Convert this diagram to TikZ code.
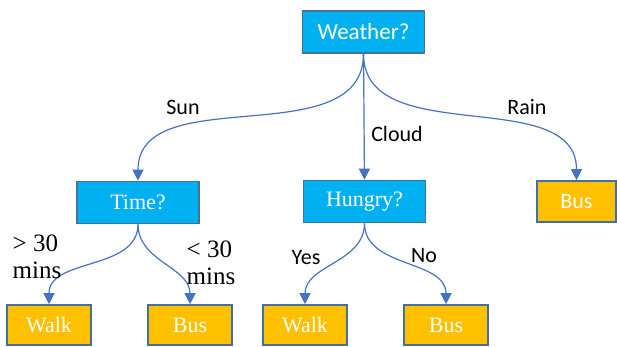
\documentclass[tikz,border=0pt]{standalone}
\usepackage{fontspec}
\setmainfont{Liberation Serif}
\newfontfamily\calibri{Carlito}
\usepackage{xcolor}
\usepackage{tikz}
\usetikzlibrary{arrows.meta}

\definecolor{qblue}{HTML}{00B0F0}
\definecolor{leafgold}{HTML}{FFC000}
\definecolor{boxline}{HTML}{41719C}
\definecolor{arrowblue}{HTML}{4472C4}

\tikzset{
    qbox/.style={draw=boxline, line width=0.8pt, fill=qblue, text=white,
        minimum width=61pt, minimum height=21pt, font=\fontsize{11}{13}\selectfont},
    leaf/.style={draw=boxline, line width=0.8pt, fill=leafgold, text=white,
        minimum width=42pt, minimum height=20pt, font=\fontsize{11}{13}\selectfont},
    branch/.style={draw=arrowblue, line width=0.6pt,
        -{Triangle[length=5.5pt,width=5.5pt]}},
    lab/.style={font=\calibri\fontsize{11}{13}\selectfont},
    serlab/.style={font=\fontsize{12.5}{13.5}\selectfont, align=left, inner sep=1pt}
}

\begin{document}
\begin{tikzpicture}[x=0.5pt,y=-0.5pt]
        \useasboundingbox (0,0) rectangle (617,347);

        % The top box
        \node[qbox, font=\calibri\fontsize{11.5}{13}\selectfont] (weather) at (363.5,32) {Weather?};

        % The middle boxes
        \node[qbox] (time) at (138,202.5) {Time?};
        \node[qbox] (hungry) at (364.5,201.5) {Hungry?};
        \node[leaf, font=\calibri\fontsize{11}{13}\selectfont, minimum width=39.5pt,
            minimum height=20.5pt] (rainbus) at (576.5,201.5) {Bus};

        % The bottom boxes
        \node[leaf] (walkA) at (49,325) {Walk};
        \node[leaf] (busA) at (190,325) {Bus};
        \node[leaf] (walkB) at (305,325) {Walk};
        \node[leaf] (busB) at (446,325) {Bus};

        % The edges
        \draw[branch] (weather.south) to[out=-90,in=90] (time.north);
        \draw[branch] (weather.south) -- (hungry.north);
        \draw[branch] (weather.south) to[out=-90,in=90] (rainbus.north);

        \draw[branch] (time.south) to[out=-90,in=90] (walkA.north);
        \draw[branch] (time.south) to[out=-90,in=90] (busA.north);
        \draw[branch] (hungry.south) to[out=-90,in=90] (walkB.north);
        \draw[branch] (hungry.south) to[out=-90,in=90] (busB.north);

        % The words on the edges
        \node[lab] (sun) at (183,107) {Sun};
        \node[lab] (cloud) at (397,134) {Cloud};
        \node[lab] (rain) at (527,107) {Rain};

        \node[serlab] (over) at (37,257) {> 30\\mins};
        \node[serlab] (under) at (211,263) {< 30\\mins};
        \node[lab] (yes) at (306,258) {Yes};
        \node[lab] (no) at (424,256) {No};

\end{tikzpicture}
\end{document}
